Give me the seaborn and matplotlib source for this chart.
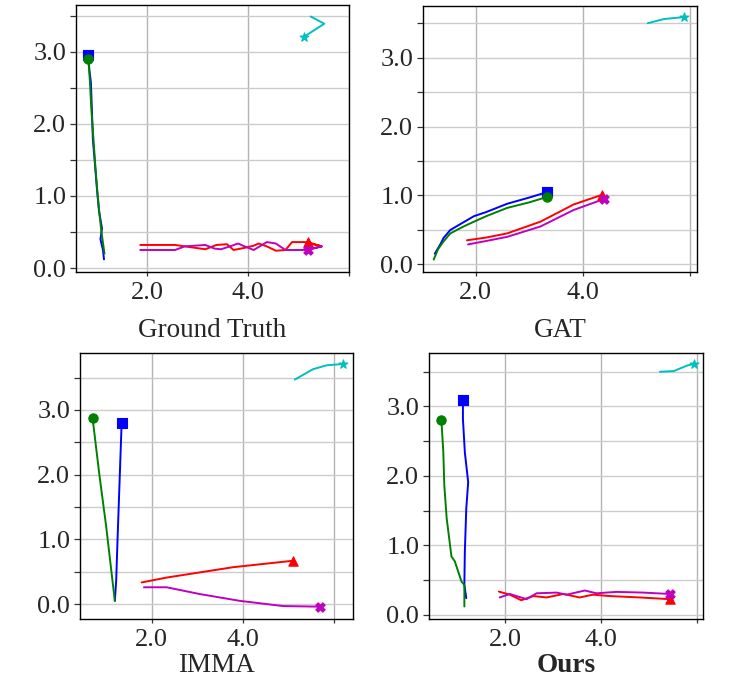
import numpy as np
import pandas as pd
import matplotlib
matplotlib.use("Agg")
import matplotlib.pyplot as plt
import seaborn as sns

# ---------------------------------------------------------
# Trajectory data (first point = marker position)
# ---------------------------------------------------------
# Ground Truth
gt_blue_x = [0.83, 0.85, 0.88, 0.90, 0.92, 0.96, 1.00, 1.04, 1.10, 1.07, 1.12, 1.14]
gt_blue_y = [2.96, 2.75, 2.58, 2.20, 1.78, 1.45, 1.10, 0.80, 0.55, 0.40, 0.25, 0.12]
gt_green_x = [0.83, 0.86, 0.89, 0.93, 0.97, 1.01, 1.05, 1.09, 1.12, 1.15]
gt_green_y = [2.90, 2.60, 2.20, 1.80, 1.40, 1.05, 0.75, 0.50, 0.35, 0.20]
gt_red_x = [5.18, 5.46, 5.12, 4.87, 4.74, 4.55, 4.37, 4.21, 4.11, 3.93, 3.71, 3.58, 3.37, 3.15, 2.55, 1.86]
gt_red_y = [0.36, 0.30, 0.36, 0.36, 0.25, 0.24, 0.30, 0.34, 0.31, 0.28, 0.25, 0.33, 0.32, 0.26, 0.32, 0.32]
gt_mag_x = [5.18, 5.46, 5.12, 4.74, 4.55, 4.37, 4.11, 3.93, 3.80, 3.68, 3.46, 3.33, 3.15, 2.74, 2.55, 1.86]
gt_mag_y = [0.25, 0.30, 0.25, 0.25, 0.34, 0.36, 0.25, 0.30, 0.34, 0.31, 0.26, 0.27, 0.32, 0.30, 0.25, 0.25]
gt_cyan_x = [5.11, 5.51, 5.24]
gt_cyan_y = [3.21, 3.39, 3.49]

# GAT
gat_blue_x = [3.34, 3.00, 2.59, 2.20, 1.97, 1.75, 1.53, 1.40, 1.35, 1.24]
gat_blue_y = [1.05, 0.97, 0.88, 0.76, 0.70, 0.60, 0.50, 0.38, 0.30, 0.155]
gat_green_x = [3.34, 3.00, 2.59, 2.20, 1.97, 1.75, 1.53, 1.40, 1.30, 1.22]
gat_green_y = [0.98, 0.90, 0.82, 0.70, 0.62, 0.54, 0.45, 0.33, 0.22, 0.07]
gat_red_x = [4.36, 3.83, 3.21, 2.59, 2.20, 1.84]
gat_red_y = [1.01, 0.87, 0.62, 0.45, 0.39, 0.35]
gat_mag_x = [4.40, 3.83, 3.21, 2.59, 2.20, 1.86]
gat_mag_y = [0.95, 0.79, 0.55, 0.40, 0.34, 0.29]
gat_cyan_x = [5.89, 5.51, 5.21]
gat_cyan_y = [3.59, 3.56, 3.50]

# IMMA
imma_blue_x = [1.34, 1.30, 1.25, 1.22, 1.19]
imma_blue_y = [2.80, 2.00, 1.00, 0.36, 0.05]
imma_green_x = [0.70, 0.85, 1.00, 1.19]
imma_green_y = [2.88, 2.00, 1.20, 0.05]
imma_red_x = [5.11, 3.79, 2.33, 1.78]
imma_red_y = [0.67, 0.57, 0.41, 0.335]
imma_mag_x = [5.71, 4.89, 3.94, 3.06, 2.33, 1.83]
imma_mag_y = [-0.04, -0.03, 0.05, 0.155, 0.26, 0.26]
imma_cyan_x = [6.21, 5.85, 5.55, 5.15]
imma_cyan_y = [3.71, 3.69, 3.63, 3.47]

# Ours
ours_blue_x = [1.11, 1.11, 1.15, 1.22, 1.18, 1.15, 1.14, 1.18]
ours_blue_y = [3.09, 2.82, 2.34, 1.91, 1.53, 0.91, 0.43, 0.24]
ours_green_x = [0.66, 0.70, 0.72, 0.77, 0.87, 0.94, 1.08, 1.14, 1.14]
ours_green_y = [2.80, 2.34, 1.87, 1.39, 0.84, 0.77, 0.48, 0.43, 0.12]
ours_red_x = [5.44, 4.81, 4.18, 3.83, 3.55, 3.21, 2.86, 2.58, 2.33, 2.09, 1.86]
ours_red_y = [0.225, 0.25, 0.27, 0.29, 0.25, 0.30, 0.25, 0.27, 0.21, 0.29, 0.335]
ours_mag_x = [5.44, 4.88, 4.32, 3.90, 3.66, 3.28, 3.07, 2.65, 2.44, 2.09, 1.88]
ours_mag_y = [0.30, 0.32, 0.33, 0.31, 0.35, 0.29, 0.32, 0.31, 0.225, 0.30, 0.25]
ours_cyan_x = [5.94, 5.80, 5.52, 5.23]
ours_cyan_y = [3.61, 3.59, 3.51, 3.50]

titles = ["Ground Truth", "GAT", "IMMA", "Ours"]
x_ticks = [2, 4, 6]
x_tick_labels = ["2.0", "4.0", ""]
y_ticks = [0, 1, 2, 3]
y_tick_labels = ["0.0", "1.0", "2.0", "3.0"]
y_minor = [0.5, 1.5, 2.5, 3.5]

agents = [("#0000ff", "s", 45), ("#008000", "o", 45), ("#ff0000", "^", 45),
          ("#bf00bf", "X", 45), ("#00bfbf", "*", 45)]

panels = [
    [(gt_blue_x, gt_blue_y), (gt_green_x, gt_green_y), (gt_red_x, gt_red_y), (gt_mag_x, gt_mag_y), (gt_cyan_x, gt_cyan_y)],
    [(gat_blue_x, gat_blue_y), (gat_green_x, gat_green_y), (gat_red_x, gat_red_y), (gat_mag_x, gat_mag_y), (gat_cyan_x, gat_cyan_y)],
    [(imma_blue_x, imma_blue_y), (imma_green_x, imma_green_y), (imma_red_x, imma_red_y), (imma_mag_x, imma_mag_y), (imma_cyan_x, imma_cyan_y)],
    [(ours_blue_x, ours_blue_y), (ours_green_x, ours_green_y), (ours_red_x, ours_red_y), (ours_mag_x, ours_mag_y), (ours_cyan_x, ours_cyan_y)],
]

# axes placement and view limits per panel
rects = [[0.1016, 0.6012, 0.365, 0.3915],
         [0.5655, 0.6012, 0.3663, 0.3900],
         [0.1070, 0.0924, 0.365, 0.3900],
         [0.5735, 0.0924, 0.3663, 0.3900]]
xlims = [(0.585, 5.73), (1.02, 6.13), (0.425, 6.43), (0.40, 6.13)]
ylims = [(-0.055, 3.65), (-0.11, 3.75), (-0.23, 3.88), (-0.06, 3.77)]
label_pads = [10, 10, 2, 2]

sns.set_theme(style="whitegrid")
plt.rcParams['font.family'] = ['Liberation Serif', 'DejaVu Serif']

fig = plt.figure(figsize=(7.48, 6.82), dpi=100)

for i, title in enumerate(titles):
    ax = fig.add_axes(rects[i])
    for (xs, ys), (color, marker, size) in zip(panels[i], agents):
        df = pd.DataFrame({"x": xs, "y": ys})
        sns.lineplot(data=df, x="x", y="y", sort=False, estimator=None,
                     color=color, lw=1.4, ax=ax)
        sns.scatterplot(data=df.iloc[:1], x="x", y="y", color=color, marker=marker,
                        s=size, edgecolor=color, linewidth=0.8, ax=ax, zorder=3)
    ax.set_xlim(*xlims[i])
    ax.set_ylim(*ylims[i])
    ax.set_xticks(x_ticks)
    ax.set_xticklabels(x_tick_labels)
    ax.set_yticks(y_ticks)
    ax.set_yticklabels(y_tick_labels)
    ax.set_yticks(y_minor, minor=True)
    ax.set_axisbelow(True)
    ax.grid(True, axis="y", which="both", color="#cccccc", lw=1.0)
    ax.grid(True, axis="x", which="major", color="#b4b4b4", lw=1.0)
    ax.tick_params(axis="y", which="both", left=True, length=4, width=0.9,
                   color="#333333", labelsize=19, pad=3)
    ax.tick_params(axis="x", which="both", bottom=True, length=3, width=0.9,
                   color="#333333", labelsize=19, pad=4)
    for sp in ax.spines.values():
        sp.set_color("black")
        sp.set_linewidth(1.0)
    ax.set_ylabel("")
    ax.set_xlabel(title, fontsize=19.5, labelpad=label_pads[i],
                  fontweight="bold" if title == "Ours" else "normal")

fig.savefig("out.png", dpi=100)
